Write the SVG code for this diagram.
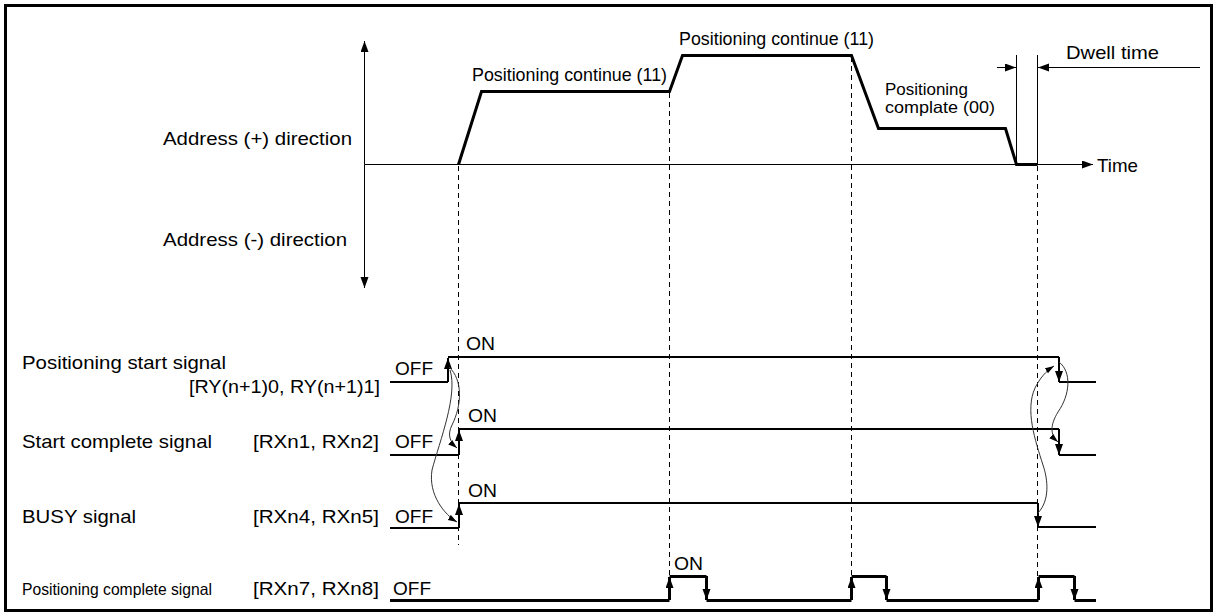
<svg xmlns="http://www.w3.org/2000/svg" width="1218" height="616" viewBox="0 0 1218 616">
<style>
text{font-family:"Liberation Sans",Arial,sans-serif;font-size:19px;fill:#000}
.sm{font-size:16.5px}
.thin{stroke:#000;stroke-width:1;fill:none}
.dash{stroke:#000;stroke-width:1;fill:none;stroke-dasharray:5,4}
.wave{stroke:#000;stroke-width:3;fill:none;stroke-linejoin:miter}
.sig{stroke:#000;stroke-width:2;fill:none}
.sig3{stroke:#000;stroke-width:3;fill:none}
.curve{stroke:#333;stroke-width:1;fill:none}
</style>
<defs>
<marker id="ah" markerUnits="userSpaceOnUse" markerWidth="12" markerHeight="9" refX="11" refY="4" orient="auto"><path d="M0,0 L11,4 L0,8 z" fill="#000"/></marker>
<marker id="ahs" markerUnits="userSpaceOnUse" markerWidth="10" markerHeight="7" refX="9" refY="3" orient="auto"><path d="M0,0 L9,3 L0,6 z" fill="#000"/></marker>
</defs>
<rect x="5.5" y="5.5" width="1206" height="605" fill="#fff" stroke="#000" stroke-width="3"/>

<g id="axes">
<line class="thin" x1="364.5" y1="164.5" x2="364.5" y2="41" marker-end="url(#ah)"/>
<line class="thin" x1="364.5" y1="164.5" x2="364.5" y2="288" marker-end="url(#ah)"/>
<line class="thin" x1="364.5" y1="164.5" x2="1093" y2="164.5" marker-end="url(#ah)"/>
<text x="1097" y="172" textLength="41" lengthAdjust="spacingAndGlyphs">Time</text>
<text x="163" y="145" textLength="189" lengthAdjust="spacingAndGlyphs">Address (+) direction</text>
<text x="163" y="246" textLength="184" lengthAdjust="spacingAndGlyphs">Address (-) direction</text>
</g>

<g id="waveform">
<polyline class="wave" points="458.5,164.5 481.5,91.5 669.5,91.5 682.5,55.5 851.5,55.5 878.5,128.5 1005.5,128.5 1016.5,164.5 1037.5,164.5"/>
<text x="472" y="81" textLength="195" lengthAdjust="spacingAndGlyphs">Positioning continue (11)</text>
<text x="679" y="45" textLength="195" lengthAdjust="spacingAndGlyphs">Positioning continue (11)</text>
<text class="sm" x="885" y="95" textLength="83" lengthAdjust="spacingAndGlyphs">Positioning</text>
<text class="sm" x="885" y="113" textLength="110" lengthAdjust="spacingAndGlyphs">complate (00)</text>
</g>

<g id="dwell">
<line class="thin" x1="1016.5" y1="55" x2="1016.5" y2="164"/>
<line class="thin" x1="1037.5" y1="55" x2="1037.5" y2="164"/>
<line class="thin" x1="997" y1="67.5" x2="1016" y2="67.5" marker-end="url(#ah)"/>
<line class="thin" x1="1200" y1="67.5" x2="1038" y2="67.5" marker-end="url(#ah)"/>
<text x="1066" y="59" textLength="93" lengthAdjust="spacingAndGlyphs">Dwell time</text>
</g>

<g id="guides">
<line class="dash" x1="458.5" y1="166" x2="458.5" y2="545"/>
<line class="dash" x1="669.5" y1="93" x2="669.5" y2="576"/>
<line class="dash" x1="851.5" y1="57" x2="851.5" y2="576"/>
<line class="dash" x1="1037.5" y1="166" x2="1037.5" y2="576"/>
</g>

<g id="start-signal">
<text x="22" y="369" textLength="204" lengthAdjust="spacingAndGlyphs">Positioning start signal</text>
<text x="189" y="393" textLength="191" lengthAdjust="spacingAndGlyphs">[RY(n+1)0, RY(n+1)1]</text>
<text x="395" y="375" textLength="38" lengthAdjust="spacingAndGlyphs">OFF</text>
<text x="466" y="350" textLength="29" lengthAdjust="spacingAndGlyphs">ON</text>
<polyline class="sig" points="390,382 448,382"/>
<polyline class="sig" points="448,357 1059,357"/>
<polyline class="sig" points="1059,382 1096,382"/>
<line class="sig" x1="448" y1="382" x2="448" y2="358" marker-end="url(#ah)"/>
<line class="sig" x1="1059" y1="357" x2="1059" y2="382" marker-end="url(#ah)"/>
</g>

<g id="start-complete">
<text x="22" y="448" textLength="190" lengthAdjust="spacingAndGlyphs">Start complete signal</text>
<text x="253" y="448" textLength="126" lengthAdjust="spacingAndGlyphs">[RXn1, RXn2]</text>
<text x="395" y="448" textLength="38" lengthAdjust="spacingAndGlyphs">OFF</text>
<text x="468" y="422" textLength="29" lengthAdjust="spacingAndGlyphs">ON</text>
<polyline class="sig" points="390,455 459,455"/>
<polyline class="sig" points="459,429 1059,429"/>
<polyline class="sig" points="1059,455 1096,455"/>
<line class="sig" x1="459" y1="455" x2="459" y2="430" marker-end="url(#ah)"/>
<line class="sig" x1="1059" y1="429" x2="1059" y2="455" marker-end="url(#ah)"/>
</g>

<g id="busy">
<text x="22" y="523" textLength="114" lengthAdjust="spacingAndGlyphs">BUSY signal</text>
<text x="253" y="523" textLength="126" lengthAdjust="spacingAndGlyphs">[RXn4, RXn5]</text>
<text x="395" y="523" textLength="38" lengthAdjust="spacingAndGlyphs">OFF</text>
<text x="468" y="497" textLength="29" lengthAdjust="spacingAndGlyphs">ON</text>
<polyline class="sig" points="390,528 459,528"/>
<polyline class="sig" points="459,503 1038,503"/>
<polyline class="sig" points="1038,527 1096,527"/>
<line class="sig" x1="459" y1="528" x2="459" y2="504" marker-end="url(#ah)"/>
<line class="sig" x1="1038" y1="503" x2="1038" y2="527" marker-end="url(#ah)"/>
</g>

<g id="pos-complete">
<text class="sm" x="22" y="595" textLength="190" lengthAdjust="spacingAndGlyphs">Positioning complete signal</text>
<text x="253" y="595" textLength="126" lengthAdjust="spacingAndGlyphs">[RXn7, RXn8]</text>
<text x="393" y="595" textLength="38" lengthAdjust="spacingAndGlyphs">OFF</text>
<text x="674" y="570" textLength="29" lengthAdjust="spacingAndGlyphs">ON</text>
<polyline class="sig3" points="390,600.5 669.5,600.5"/>
<polyline class="sig3" points="669.5,576.5 706.5,576.5"/>
<polyline class="sig3" points="706.5,600.5 851.5,600.5"/>
<polyline class="sig3" points="851.5,576.5 886.5,576.5"/>
<polyline class="sig3" points="886.5,600.5 1038.5,600.5"/>
<polyline class="sig3" points="1038.5,576.5 1074.5,576.5"/>
<polyline class="sig3" points="1074.5,600.5 1096,600.5"/>
<line class="sig3" x1="669.5" y1="600" x2="669.5" y2="577" marker-end="url(#ah)"/>
<line class="sig3" x1="706.5" y1="576" x2="706.5" y2="600" marker-end="url(#ah)"/>
<line class="sig3" x1="851.5" y1="600" x2="851.5" y2="577" marker-end="url(#ah)"/>
<line class="sig3" x1="886.5" y1="576" x2="886.5" y2="600" marker-end="url(#ah)"/>
<line class="sig3" x1="1038.5" y1="600" x2="1038.5" y2="577" marker-end="url(#ah)"/>
<line class="sig3" x1="1074.5" y1="576" x2="1074.5" y2="600" marker-end="url(#ah)"/>
</g>

<g id="connectors">
<path class="curve" d="M449,367 C463,380 462,405 452,425 C447,435 450,442 457,448" marker-end="url(#ahs)"/>
<path class="curve" d="M450,370 C458,395 440,440 432,470 C428,495 445,515 457,522" marker-end="url(#ahs)"/>
<path class="curve" d="M1059,362 C1072,372 1070,395 1058,412 C1050,425 1050,435 1058,442" marker-end="url(#ahs)"/>
<path class="curve" d="M1038,513 C1050,500 1048,480 1043,465 C1035,440 1025,410 1035,388 C1040,378 1046,371 1054,366" marker-end="url(#ahs)"/>
</g>
</svg>
